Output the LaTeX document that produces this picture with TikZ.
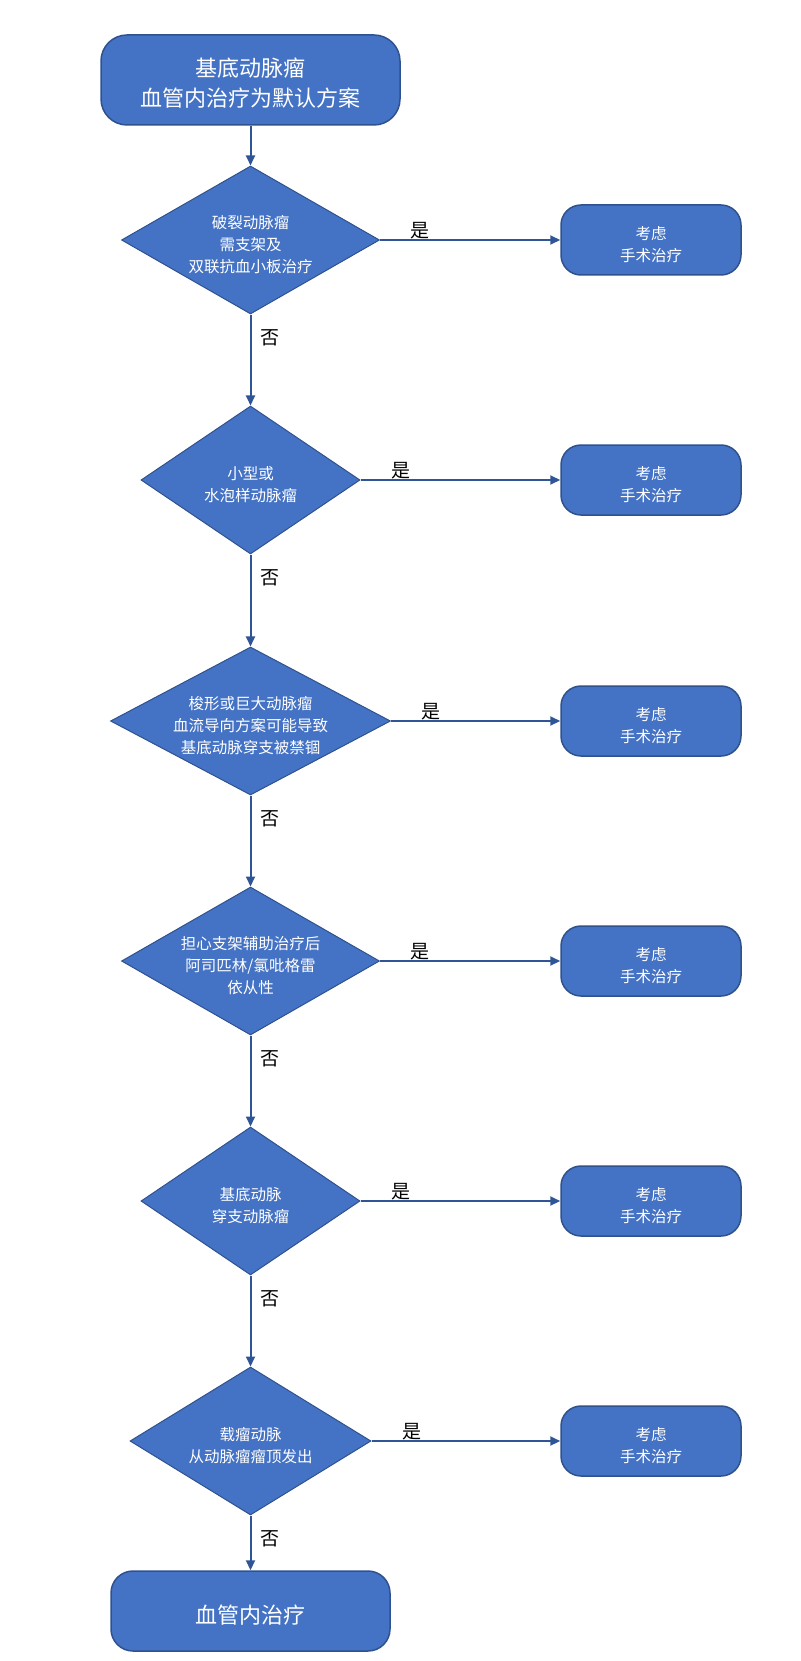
\documentclass[tikz,border=0pt]{standalone}
\usepackage{fontspec}
\setmainfont{Noto Sans CJK SC}
\usetikzlibrary{shapes.geometric, shapes.misc, positioning}
\usetikzlibrary{arrows.meta}
\usepackage{xcolor}
\definecolor{boxfill}{RGB}{68,114,196}
\definecolor{boxline}{RGB}{47,82,143}
\definecolor{arrowcol}{RGB}{47,85,151}
% text sits a little low in the boxes
\newcommand{\lowtext}[1]{\raisebox{-6pt}[\height][\depth]{\begin{tabular}{@{}c@{}}#1\end{tabular}}}

\begin{document}
\begin{tikzpicture}[x=1pt,y=-1pt]
	\tikzset{
		termbox/.style={%
			draw=boxline,
			fill=boxfill,
			line width=1.5pt,
			rounded corners=26pt,
			text=white,
			inner sep=0pt,
			font=\fontsize{22pt}{30pt}\selectfont},
		surgbox/.style={%
			draw=boxline,
			fill=boxfill,
			line width=1.5pt,
			rounded corners=20pt,
			text=white,
			inner sep=0pt,
			minimum width=180pt,
			minimum height=70pt,
			font=\fontsize{15.5pt}{22pt}\selectfont},
		decide/.style={%
			draw=boxline,
			fill=boxfill,
			line width=1pt,
			shape=diamond,
			inner sep=0pt,
			minimum height=148pt,
			text=white,
			font=\fontsize{15.5pt}{22pt}\selectfont},
		lbl/.style={%
			inner sep=0pt,
			text=black,
			font=\fontsize{19pt}{19pt}\selectfont}
	}

	\tikzstyle{edge_style} = [draw=arrowcol, line width=2pt, -{Triangle[width=9pt,length=10pt]}]

	\useasboundingbox (0,0) rectangle (800,1661);

	\node[termbox, minimum width=299pt, minimum height=90pt] (start) at (250.5,80) {\lowtext{基底动脉瘤\\血管内治疗为默认方案}};

	\node[decide, minimum width=258pt, shape aspect=1.74] (d1) at (250.5,240) {\lowtext{破裂动脉瘤\\需支架及\\双联抗血小板治疗}};
	\node[decide, minimum width=219pt, shape aspect=1.48] (d2) at (250.5,480) {\lowtext{小型或\\水泡样动脉瘤}};
	\node[decide, minimum width=280pt, shape aspect=1.89] (d3) at (250.5,721) {\lowtext{梭形或巨大动脉瘤\\血流导向方案可能导致\\基底动脉穿支被禁锢}};
	\node[decide, minimum width=258pt, shape aspect=1.74] (d4) at (250.5,961) {\lowtext{担心支架辅助治疗后\\阿司匹林/氯吡格雷\\依从性}};
	\node[decide, minimum width=219pt, shape aspect=1.48] (d5) at (250.5,1201) {\lowtext{基底动脉\\穿支动脉瘤}};
	\node[decide, minimum width=241pt, shape aspect=1.63] (d6) at (250.5,1441) {\lowtext{载瘤动脉\\从动脉瘤瘤顶发出}};

	\node[termbox, minimum width=279pt, minimum height=80pt, rounded corners=22pt] (end) at (250.5,1611) {\lowtext{血管内治疗}};

	\node[surgbox] (s1) at (651,240) {\lowtext{考虑\\手术治疗}};
	\node[surgbox] (s2) at (651,480) {\lowtext{考虑\\手术治疗}};
	\node[surgbox] (s3) at (651,721) {\lowtext{考虑\\手术治疗}};
	\node[surgbox] (s4) at (651,961) {\lowtext{考虑\\手术治疗}};
	\node[surgbox] (s5) at (651,1201) {\lowtext{考虑\\手术治疗}};
	\node[surgbox] (s6) at (651,1441) {\lowtext{考虑\\手术治疗}};

	% main line
	\draw[edge_style] (start) -- (d1);
	\draw[edge_style] (d1) -- (d2);
	\draw[edge_style] (d2) -- (d3);
	\draw[edge_style] (d3) -- (d4);
	\draw[edge_style] (d4) -- (d5);
	\draw[edge_style] (d5) -- (d6);
	\draw[edge_style] (d6) -- (end);

	% yes branches
	\draw[edge_style] (d1) -- (s1);
	\draw[edge_style] (d2) -- (s2);
	\draw[edge_style] (d3) -- (s3);
	\draw[edge_style] (d4) -- (s4);
	\draw[edge_style] (d5) -- (s5);
	\draw[edge_style] (d6) -- (s6);

	\node[lbl] (y1) at ([xshift=40pt,yshift=9pt]d1.east) {是};
	\node[lbl] (y2) at ([xshift=40pt,yshift=9pt]d2.east) {是};
	\node[lbl] (y3) at ([xshift=40pt,yshift=9pt]d3.east) {是};
	\node[lbl] (y4) at ([xshift=40pt,yshift=9pt]d4.east) {是};
	\node[lbl] (y5) at ([xshift=40pt,yshift=9pt]d5.east) {是};
	\node[lbl] (y6) at ([xshift=40pt,yshift=9pt]d6.east) {是};

	\node[lbl] (n1) at ([xshift=19pt,yshift=-23pt]d1.south) {否};
	\node[lbl] (n2) at ([xshift=19pt,yshift=-23pt]d2.south) {否};
	\node[lbl] (n3) at ([xshift=19pt,yshift=-23pt]d3.south) {否};
	\node[lbl] (n4) at ([xshift=19pt,yshift=-23pt]d4.south) {否};
	\node[lbl] (n5) at ([xshift=19pt,yshift=-23pt]d5.south) {否};
	\node[lbl] (n6) at ([xshift=19pt,yshift=-23pt]d6.south) {否};

\end{tikzpicture}
\end{document}
